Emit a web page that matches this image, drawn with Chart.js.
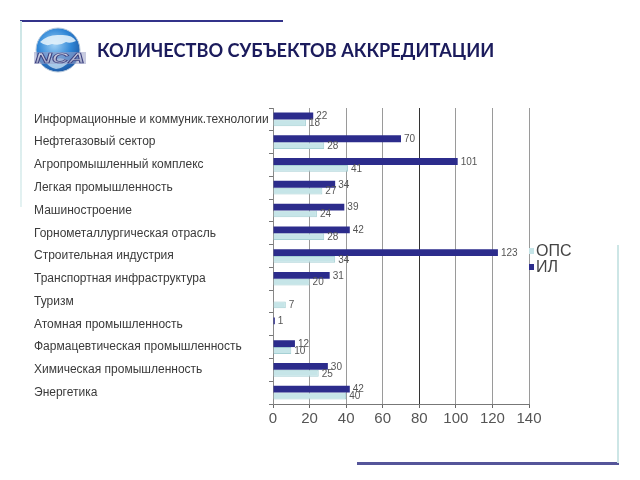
<!DOCTYPE html>
<html>
<head>
<meta charset="utf-8">
<script src="https://cdn.jsdelivr.net/npm/chart.js@4.4.1/dist/chart.umd.min.js"></script>
<style>
  html, body { margin: 0; padding: 0; background: #fff; }
  #wrap { position: relative; width: 640px; height: 480px; overflow: hidden; }
  #c { position: absolute; left: 0; top: 0; }
  .deco { position: absolute; }
  #title { position: absolute; left: 97px; top: 39px; font-family: Lato, "Liberation Sans", sans-serif; font-weight: bold; font-size: 18.2px; color: #1b1b5c; white-space: nowrap; }
  .leg { position: absolute; font-family: "Liberation Sans", Arial, sans-serif; font-size: 16px; color: #444; line-height: 16px; white-space: nowrap; }
  .legbox { position: absolute; width: 5px; height: 6px; }
</style>
</head>
<body>
<div id="wrap">
  <canvas id="c" width="640" height="480"></canvas>
  <div class="deco" style="left:20px;top:20px;width:263px;height:2px;background:#33338a;"></div>
  <div class="deco" style="left:20px;top:21px;width:2px;height:186px;background:linear-gradient(#cde6e6,#e4f2f2);"></div>
  <div class="deco" style="left:357px;top:462px;width:262px;height:3px;background:#55559a;"></div>
  <div class="deco" style="left:617px;top:245px;width:2px;height:218px;background:#cde6e6;"></div>
  <svg class="deco" style="left:30px;top:26px" width="60" height="50" viewBox="0 0 60 50">
    <defs>
      <radialGradient id="gl" cx="42%" cy="38%" r="70%">
        <stop offset="0" stop-color="#9fd0f5"/>
        <stop offset="0.55" stop-color="#2f86d6"/>
        <stop offset="1" stop-color="#1a4f9a"/>
      </radialGradient>
      <linearGradient id="tx" x1="0" y1="0" x2="0" y2="1">
        <stop offset="0" stop-color="#e8ebf5"/>
        <stop offset="1" stop-color="#8d93b8"/>
      </linearGradient>
    </defs>
    <circle cx="28" cy="24" r="22" fill="url(#gl)" stroke="#b7c9dc" stroke-width="1"/>
    <path d="M10 16 Q18 8 30 9 Q42 8 46 15 Q40 18 36 16 Q30 20 22 18 Q16 21 10 16 Z" fill="#e9f4fb" opacity="0.85"/>
    <path d="M14 34 Q20 30 26 33 Q32 31 40 35 Q34 42 26 43 Q18 41 14 34 Z" fill="#dcecf8" opacity="0.7"/>
    <rect x="4" y="26" width="52" height="12" fill="#9aa0c6" opacity="0.55"/>
    <text x="30" y="37" text-anchor="middle" font-family="Liberation Sans, Arial" font-weight="bold" font-style="italic" font-size="14" textLength="50" lengthAdjust="spacingAndGlyphs" fill="url(#tx)" stroke="#3d4280" stroke-width="0.7">NCA</text>
  </svg>
  <div id="title">КОЛИЧЕСТВО СУБЪЕКТОВ АККРЕДИТАЦИИ</div>
  <div class="legbox" style="left:529px;top:248px;background:#c6e5e8;border:0;"></div>
  <div class="leg" style="left:536px;top:243px;">ОПС</div>
  <div class="legbox" style="left:529px;top:264px;background:#2c2c8c;"></div>
  <div class="leg" style="left:536px;top:259px;">ИЛ</div>
</div>
<script>
// ---- data ----
const categories = [
  "Информационные и коммуник.технологии",
  "Нефтегазовый сектор",
  "Агропромышленный комплекс",
  "Легкая промышленность",
  "Машиностроение",
  "Горнометаллургическая отрасль",
  "Строительная индустрия",
  "Транспортная инфраструктура",
  "Туризм",
  "Атомная промышленность",
  "Фармацевтическая промышленность",
  "Химическая промышленность",
  "Энергетика"
];
const ilValues  = [22, 70, 101, 34, 39, 42, 123, 31, null, 1, 12, 30, 42];
const opsValues = [18, 28, 41, 27, 24, 28, 34, 20, 7, null, 10, 25, 40];
const xTickValues = [0, 20, 40, 60, 80, 100, 120, 140];
const seriesNames = ["ИЛ", "ОПС"];

const valueLabels = {
  id: 'valueLabels',
  afterDatasetsDraw(chart) {
    const ctx = chart.ctx;
    ctx.save();
    ctx.font = '10px "Liberation Sans", Arial, sans-serif';
    ctx.fillStyle = '#555';
    ctx.textAlign = 'left';
    ctx.textBaseline = 'middle';
    chart.data.datasets.forEach((ds, di) => {
      const meta = chart.getDatasetMeta(di);
      meta.data.forEach((el, i) => {
        const v = ds.data[i];
        if (v === null || v === undefined) return;
        ctx.fillText(String(v), el.x + 3, el.y + 0.5);
      });
    });
    ctx.restore();
  }
};

new Chart(document.getElementById('c'), {
  type: 'bar',
  data: {
    labels: categories,
    datasets: [
      { label: seriesNames[0], data: ilValues, backgroundColor: '#2c2c8c', borderColor: '#23236f', borderWidth: 0 },
      { label: seriesNames[1], data: opsValues, backgroundColor: '#c6e5e8', borderColor: '#a6d0d4', borderWidth: 1 }
    ]
  },
  options: {
    indexAxis: 'y',
    responsive: false,
    animation: false,
    devicePixelRatio: 1,
    categoryPercentage: 0.6,
    barPercentage: 1.0,
    layout: { padding: { left: 34, right: 111, top: 108, bottom: 51 } },
    plugins: { legend: { display: false }, tooltip: { enabled: false } },
    scales: {
      x: {
        min: 0, max: 140,
        afterBuildTicks(scale) { scale.ticks = xTickValues.map(v => ({ value: v })); },
        afterFit(scale) { scale.height = 25; },
        grid: {
          color: (c) => (c.tick && c.tick.value === 80) ? '#333' : '#9a9a9a',
          lineWidth: 1,
          drawTicks: true,
          tickLength: 4,
          tickColor: '#666'
        },
        border: { display: true, color: '#777' },
        ticks: { color: '#555', font: { family: '"Liberation Sans", Arial, sans-serif', size: 15 }, padding: 2 }
      },
      y: {
        afterFit(scale) { scale.width = 239; },
        grid: { drawOnChartArea: false, drawTicks: true, tickLength: 4, color: '#777' },
        border: { display: true, color: '#888' },
        ticks: { crossAlign: 'far', color: '#3a3a3a', font: { family: '"Liberation Sans", Arial, sans-serif', size: 12 } }
      }
    }
  },
  plugins: [valueLabels]
});
</script>
</body>
</html>
